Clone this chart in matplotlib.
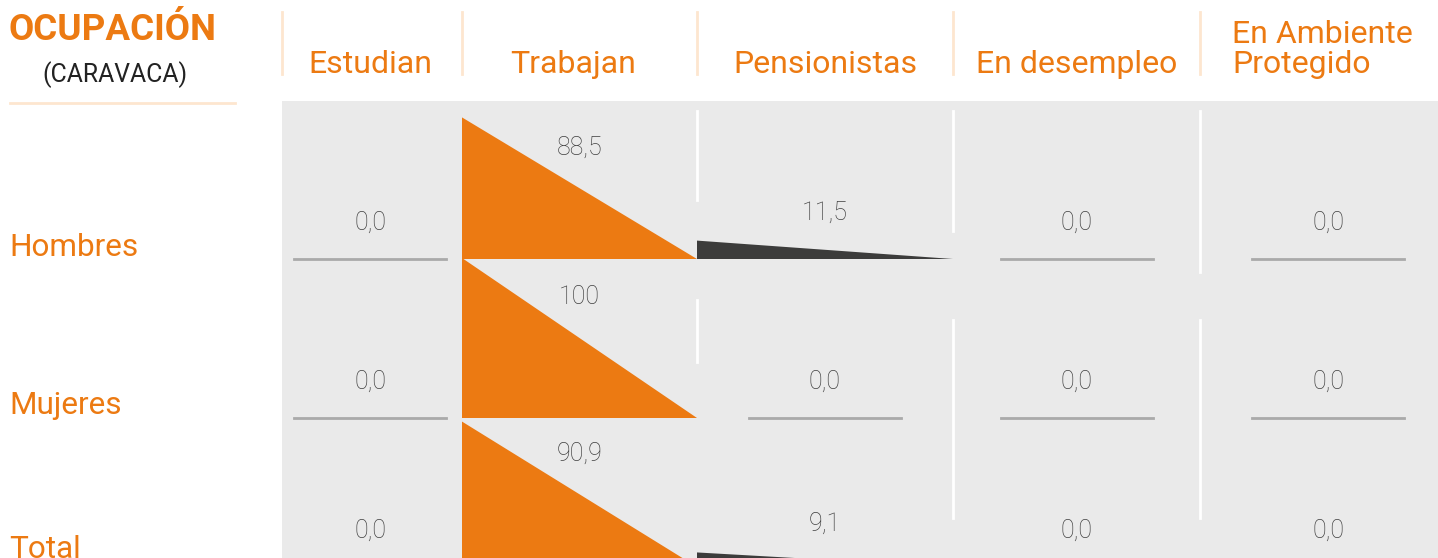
import matplotlib.pyplot as plt
from matplotlib import font_manager

# datos (porcentajes, Caravaca)
filas = ['Hombres', 'Mujeres', 'Total']
columnas = ['Estudian', 'Trabajan', 'Pensionistas', 'En desempleo', 'En Ambiente\nProtegido']
estudian = [0.0, 0.0, 0.0]
trabajan = [88.5, 100.0, 90.9]
pensionistas = [11.5, 0.0, 9.1]
desempleo = [0.0, 0.0, 0.0]
ambiente = [0.0, 0.0, 0.0]
valores = [estudian, trabajan, pensionistas, desempleo, ambiente]

# colores
NARANJA = '#ec7a12'
OSCURO = '#3c3c3b'
GRIS_FONDO = '#eaeaea'
GRIS_LINEA = '#aaaaaa'
GRIS_TEXTO = '#3f3f3f'
NARANJA_CLARO = '#fde6cf'

# layout en pixeles
bordes = [278, 462, 697, 953, 1200, 1456]   # bordes de columnas
base_filas = [259, 418, 567]                # linea base de cada fila
y_etiq_filas = [248, 406, 549]
escala = 1.6                                # px por punto porcentual
ancho_cero = 152

fuente = 'Roboto'
nombres = {f.name for f in font_manager.fontManager.ttflist}
if fuente not in nombres:
    fuente = 'DejaVu Sans'

fig = plt.figure(figsize=(14.38, 5.58), dpi=100)
ax = fig.add_axes([0, 0, 1, 1])
ax.set_xlim(0, 1438)
ax.set_ylim(558, 0)
ax.axis('off')

# fondo gris de la tabla
ax.fill([282, 1438, 1438, 282], [101, 101, 558, 558], color=GRIS_FONDO, lw=0, zorder=0)

# lineas blancas (bordes de celda a medio tapar)
blancas = [(697, 111, 200), (697, 300, 362),
           (953, 111, 231), (953, 320, 518),
           (1200, 111, 272), (1200, 320, 518)]
for x, y0, y1 in blancas:
    ax.plot([x, x], [y0, y1], color='white', lw=2, zorder=1)

# titulo
ax.text(9, 30, 'OCUPACIÓN', color=NARANJA, fontsize=26.5, fontweight='bold',
        family=fuente, ha='left', va='center')
ax.text(115, 75, '(CARAVACA)', color='#222222', fontsize=17.8, family=fuente,
        ha='center', va='center')
ax.plot([10, 235], [103, 103], color=NARANJA_CLARO, lw=2)

# encabezados de columnas
for j, nombre in enumerate(columnas):
    x0 = 282 if j == 0 else bordes[j]
    ax.plot([x0, x0], [12, 74], color=NARANJA_CLARO, lw=2)
    centro = (bordes[j] + bordes[j + 1]) / 2
    if j == 1:
        centro -= 6
    if '\n' in nombre:
        ax.text(1232, 79, nombre, color=NARANJA, fontsize=23, family=fuente,
                ha='left', va='bottom', linespacing=1.05)
    else:
        ax.text(centro, 79, nombre, color=NARANJA, fontsize=23, family=fuente,
                ha='center', va='bottom')

# etiquetas de filas
for i, fila in enumerate(filas):
    ax.text(9, y_etiq_filas[i], fila, color=NARANJA, fontsize=22.7, family=fuente,
            ha='left', va='center')

# triangulos
for i in range(len(filas)):
    base = base_filas[i]
    fila_vals = [v[i] for v in valores]
    maximo = max(fila_vals)
    for j, v in enumerate(fila_vals):
        izq, der = bordes[j], bordes[j + 1]
        centro = (izq + der) / 2
        if v > 0:
            color = NARANJA if v == maximo else OSCURO
            ax.fill([izq, izq, der], [base, base - v * escala, base],
                    color=color, lw=0, zorder=2)
        else:
            ax.plot([centro - ancho_cero / 2, centro + ancho_cero / 2], [base, base],
                    color=GRIS_LINEA, lw=2, zorder=2)
        texto = f'{v:.1f}'.replace('.', ',') if v < 100 else '100'
        ax.text(centro, base - 36 - 0.85 * v, texto, color=GRIS_TEXTO, fontsize=18,
                family=fuente, fontweight='light', ha='center', va='center', zorder=3)

fig.savefig('out.png', dpi=100)
